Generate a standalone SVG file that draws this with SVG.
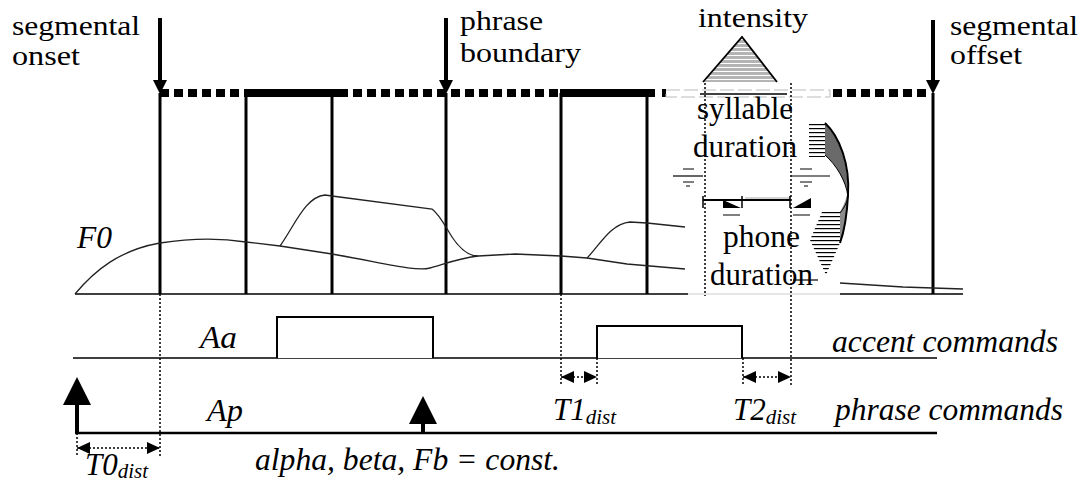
<svg xmlns="http://www.w3.org/2000/svg" width="1082" height="482" viewBox="0 0 1082 482">
<style>
text{font-family:'Liberation Serif','Times New Roman',serif;fill:#000}
.t{font-size:28px}
.m{font-size:31px}
.i{font-size:31px;font-style:italic}
.sub{font-size:21px}
.vl{stroke:#000;stroke-width:3;fill:none}
.dot{stroke:#000;stroke-width:1.5;stroke-dasharray:2 2;fill:none}
.thick{stroke:#000;stroke-width:8;fill:none}
.dash{stroke:#000;stroke-width:8;stroke-dasharray:9 5;fill:none}
.f0{stroke:#222;stroke-width:1.3;fill:none}
.base{stroke:#000;stroke-width:1.5;fill:none}
.box{stroke:#000;stroke-width:2;fill:#fff}
</style>
<defs>
<marker id="down" markerUnits="userSpaceOnUse" markerWidth="14" markerHeight="14" refX="0" refY="7" orient="auto"><path d="M0,0 L14,7 L0,14 Z" fill="#000"/></marker>
<marker id="up" markerUnits="userSpaceOnUse" markerWidth="28" markerHeight="28" refX="0" refY="14" orient="auto"><path d="M0,0 L28,14 L0,28 Z" fill="#000"/></marker>
<marker id="dim" markerUnits="userSpaceOnUse" markerWidth="13" markerHeight="12" refX="13" refY="6" orient="auto-start-reverse"><path d="M0,0 L13,6 L0,12 Z" fill="#000"/></marker>
<pattern id="gstripe" patternUnits="userSpaceOnUse" width="6" height="4"><rect width="6" height="3" fill="#b4b4b4"/><rect y="3" width="6" height="1" fill="#fff"/></pattern>
<pattern id="kstripe" patternUnits="userSpaceOnUse" width="6" height="4"><rect width="6" height="4" fill="#fff"/><rect y="0" width="6" height="1.2" fill="#000"/></pattern>
</defs>

<g id="connectors">
<line class="dash" x1="160" y1="93" x2="245" y2="93"/>
<line class="thick" x1="245" y1="93" x2="339" y2="93"/>
<line class="dash" x1="339" y1="93" x2="558" y2="93"/>
<line class="thick" x1="560" y1="93" x2="655" y2="93"/>
<line class="thick" x1="662" y1="93" x2="666" y2="93"/>
<rect x="666" y="90" width="164" height="7" fill="none" stroke="#bbb" stroke-width="1" stroke-dasharray="14 4"/>
<line x1="700" y1="94" x2="787" y2="94" stroke="#000" stroke-width="1.5"/>
<line class="dash" x1="833" y1="93" x2="930" y2="93"/>
<line x1="160" y1="18" x2="160" y2="80" stroke="#000" stroke-width="4" marker-end="url(#down)"/>
<line x1="446" y1="18" x2="446" y2="80" stroke="#000" stroke-width="4" marker-end="url(#down)"/>
<line x1="933" y1="20" x2="933" y2="80" stroke="#000" stroke-width="4" marker-end="url(#down)"/>
<line class="vl" x1="160" y1="93" x2="160" y2="294"/>
<line class="vl" x1="246" y1="93" x2="246" y2="294"/>
<line class="vl" x1="332" y1="93" x2="332" y2="294"/>
<line class="vl" x1="446" y1="93" x2="446" y2="294"/>
<line class="vl" x1="561" y1="93" x2="561" y2="294"/>
<line class="vl" x1="647" y1="93" x2="647" y2="294"/>
<line class="vl" x1="933" y1="93" x2="933" y2="294"/>
<line class="base" x1="75" y1="294" x2="688" y2="294"/>
<line x1="688" y1="294" x2="840" y2="294" stroke="#ccc" stroke-width="1.2"/>
<line class="base" x1="840" y1="294" x2="963" y2="294"/>
<path class="f0" d="M75,294 C95,270 120,250 160,243 C185,239 215,237 246,242 L280,246 L332,254 C380,262 415,272 430,268 C442,265 455,259 478,256 L515,254 L561,256 L587,258 L627,264 L685,269"/>
<path class="f0" d="M280,246 C295,225 305,197 325,195 L332,196 L432,209 C440,215 445,226 452,237 C460,249 468,256 478,256"/>
<path class="f0" d="M587,258 C600,245 610,224 630,222 L647,223 L685,227"/>
<path class="f0" d="M840,283 L903,287 L963,289"/>
<line class="dot" x1="160" y1="294" x2="160" y2="458"/>
<line class="dot" x1="561" y1="294" x2="561" y2="385"/>
<line class="dot" x1="597" y1="358" x2="597" y2="385"/>
<line class="dot" x1="743" y1="358" x2="743" y2="385"/>
<line class="dot" x1="791" y1="83" x2="791" y2="385"/>
<line class="dot" x1="705" y1="83" x2="705" y2="296"/>
<line class="dot" x1="77" y1="433" x2="77" y2="456"/>
<line x1="73" y1="358" x2="937" y2="358" stroke="#000" stroke-width="1.5"/>
<line x1="75" y1="433" x2="937" y2="433" stroke="#000" stroke-width="2.5"/>
<line x1="77" y1="433" x2="77" y2="405" stroke="#000" stroke-width="4" marker-end="url(#up)"/>
<line x1="423" y1="433" x2="423" y2="424" stroke="#000" stroke-width="4" marker-end="url(#up)"/>
<line class="dot" x1="77" y1="448" x2="160" y2="448" marker-start="url(#dim)" marker-end="url(#dim)"/>
<line class="dot" x1="561" y1="377" x2="597" y2="377" marker-start="url(#dim)" marker-end="url(#dim)"/>
<line class="dot" x1="743" y1="377" x2="791" y2="377" marker-start="url(#dim)" marker-end="url(#dim)"/>
</g>

<g id="accent1"><path class="box" d="M277,358 L277,317 L433,317 L433,358"/></g>
<g id="accent2"><path class="box" d="M597,358 L597,326 L742,326 L742,358"/></g>

<g id="intensity-triangle">
<polygon points="742,37 777,82 703,82" fill="url(#gstripe)"/>
<polyline points="703,82 742,37 777,82" fill="none" stroke="#000" stroke-width="1.8"/>
</g>

<g id="duration-symbols">
<line x1="673" y1="176" x2="703" y2="176" stroke="#000" stroke-width="1.2"/>
<line x1="683" y1="169" x2="694" y2="169" stroke="#000" stroke-width="1"/>
<line x1="683" y1="182" x2="694" y2="182" stroke="#000" stroke-width="1"/>
<line x1="686" y1="186" x2="690" y2="186" stroke="#000" stroke-width="1"/>
<line x1="791" y1="176" x2="830" y2="176" stroke="#000" stroke-width="1.2"/>
<line x1="800" y1="169" x2="812" y2="169" stroke="#000" stroke-width="1"/>
<line x1="800" y1="182" x2="812" y2="182" stroke="#000" stroke-width="1"/>
<line x1="804" y1="186" x2="808" y2="186" stroke="#000" stroke-width="1"/>
<line x1="703" y1="200" x2="790" y2="200" stroke="#000" stroke-width="2"/>
<line x1="745" y1="198" x2="790" y2="198" stroke="#aaa" stroke-width="1"/>
<line x1="703" y1="196" x2="703" y2="208" stroke="#000" stroke-width="1.5"/>
<line x1="742" y1="196" x2="742" y2="208" stroke="#000" stroke-width="1.5"/>
<line x1="790" y1="196" x2="790" y2="208" stroke="#000" stroke-width="1.5"/>
<polygon points="723,200 741,208 723,208" fill="#000"/>
<polygon points="793,208 811,198 811,208" fill="#000"/>
<line x1="723" y1="215" x2="740" y2="215" stroke="#000" stroke-width="1"/>
<line x1="793" y1="215" x2="810" y2="215" stroke="#000" stroke-width="1"/>
<line x1="793" y1="280" x2="818" y2="280" stroke="#000" stroke-width="1.2"/>
</g>

<g id="crescent">
<rect x="809" y="122" width="16" height="35" fill="url(#kstripe)"/>
<polygon points="822,212 840,212 840,243 826,275 810,240" fill="url(#kstripe)"/>
<path d="M825,123 C838,135 848,160 848,192 C842,176 835,163 825,155 Z" fill="#6a6a6a"/>
<path d="M848,190 C848,215 845,232 840,243 L840,212 C844,205 847,198 848,190 Z" fill="#8a8a8a"/>
<path d="M825,123 C840,137 850,165 848,195 C847,215 844,232 840,243" fill="none" stroke="#000" stroke-width="2"/>
<path d="M825,155 C836,165 846,180 848,197 C847,203 844,208 840,213" fill="none" stroke="#000" stroke-width="1"/>
</g>

<g id="labels">
<text class="t" x="12" y="35" textLength="128" lengthAdjust="spacingAndGlyphs">segmental</text>
<text class="t" x="12" y="65" textLength="68" lengthAdjust="spacingAndGlyphs">onset</text>
<text class="t" x="460" y="30" textLength="83" lengthAdjust="spacingAndGlyphs">phrase</text>
<text class="t" x="460" y="62" textLength="121" lengthAdjust="spacingAndGlyphs">boundary</text>
<text class="t" x="698" y="27" textLength="110" lengthAdjust="spacingAndGlyphs">intensity</text>
<text class="t" x="950" y="35" textLength="128" lengthAdjust="spacingAndGlyphs">segmental</text>
<text class="t" x="950" y="64" textLength="72" lengthAdjust="spacingAndGlyphs">offset</text>
<text class="m" x="697" y="119" textLength="96" lengthAdjust="spacingAndGlyphs">syllable</text>
<text class="m" x="693" y="157" textLength="104" lengthAdjust="spacingAndGlyphs">duration</text>
<text class="m" x="723" y="247" textLength="77" lengthAdjust="spacingAndGlyphs">phone</text>
<text class="m" x="710" y="285" textLength="103" lengthAdjust="spacingAndGlyphs">duration</text>
<text class="i" x="77" y="248" textLength="35" lengthAdjust="spacingAndGlyphs">F0</text>
<text class="i" x="200" y="348" textLength="37" lengthAdjust="spacingAndGlyphs">Aa</text>
<text class="i" x="207" y="421" textLength="36" lengthAdjust="spacingAndGlyphs">Ap</text>
<text class="i" x="832" y="352" textLength="226" lengthAdjust="spacingAndGlyphs">accent commands</text>
<text class="i" x="835" y="420" textLength="228" lengthAdjust="spacingAndGlyphs">phrase commands</text>
<text class="i" x="255" y="470" textLength="305" lengthAdjust="spacingAndGlyphs">alpha, beta, Fb = const.</text>
<text class="i" x="85" y="475">T0<tspan class="sub" dy="3">dist</tspan></text>
<text class="i" x="553" y="420">T1<tspan class="sub" dy="4">dist</tspan></text>
<text class="i" x="733" y="420">T2<tspan class="sub" dy="4">dist</tspan></text>
</g>
</svg>
